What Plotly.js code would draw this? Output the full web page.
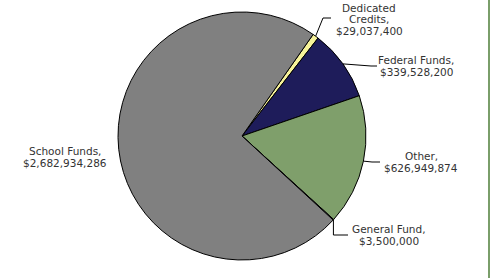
<!DOCTYPE html>
<html>
<head>
<meta charset="utf-8">
<script src="https://cdn.plot.ly/plotly-3.0.1.min.js"></script>
<style>html,body{margin:0;padding:0;background:#fff;}#chart{width:490px;height:278px;}</style>
</head>
<body>
<div id="chart"></div>
<script>
// Data
var categories = ["Dedicated Credits", "Federal Funds", "Other", "General Fund", "School Funds"];
var labelLines = [["Dedicated", "Credits,"], ["Federal Funds,"], ["Other,"], ["General Fund,"], ["School Funds,"]];
var values = [29037400, 339528200, 626949874, 3500000, 2682934286];
var colors = ["#f7f39a", "#1e1c5a", "#7f9f6b", "#808080", "#808080"];

var W = 490, H = 278;
var ROT = 35;
var CX = 242, CY = 136, R = 124;
function px(x) { return x / W; }
function py(y) { return 1 - y / H; }

// label centre (pixels) of the last text line for each category, in the same order
var labelPos = [[369, 31], [416, 72], [421, 168], [389, 241], [65, 163]];
var lineStep = 11.7;
// leader knees and ends (pixels); start point is computed on the pie edge
var leaderTail = [
  [[323, 18], [331, 18]],
  [[371, 66], [377, 66]],
  [[372, 162], [380, 162]],
  [null, [348, 235]],
  null
];

function fmt(v) { return "$" + v.toLocaleString("en-US"); }

var total = values.reduce(function (a, b) { return a + b; }, 0);
var cum = 0;
var midAngles = values.map(function (v) {
  var a = ROT + (cum + v / 2) / total * 360;
  cum += v;
  return a;
});

var annotations = [];
categories.forEach(function (c, i) {
  var lines = labelLines[i].concat([fmt(values[i])]);
  var n = lines.length;
  lines.forEach(function (t, k) {
    annotations.push({
      xref: "paper", yref: "paper",
      x: px(labelPos[i][0]), y: py(labelPos[i][1] - (n - 1 - k) * lineStep),
      xanchor: "center", yanchor: "middle",
      text: t,
      showarrow: false,
      font: {family: "DejaVu Sans", size: 10.5, color: "#333"}
    });
  });
});

var shapes = [];
leaderTail.forEach(function (T, i) {
  if (!T) return;
  var a = midAngles[i] * Math.PI / 180;
  var s = [CX + R * Math.sin(a), CY - R * Math.cos(a)];
  var pts = [s];
  if (T[0]) pts.push(T[0]); else pts.push([s[0], T[1][1]]);
  pts.push(T[1]);
  var path = "M" + pts.map(function (p) { return px(p[0]) + "," + py(p[1]); }).join("L");
  shapes.push({type: "path", xref: "paper", yref: "paper", path: path,
    line: {color: "#000", width: 1}});
});
// green frame line at right edge
shapes.push({type: "line", xref: "paper", yref: "paper", x0: px(489), x1: px(489), y0: 0, y1: 1,
  line: {color: "#7a9e6a", width: 2}});

var trace = {
  type: "pie",
  labels: categories,
  values: values,
  sort: false,
  direction: "clockwise",
  rotation: ROT,
  marker: {colors: colors, line: {color: "#000", width: 1}},
  textinfo: "none",
  hoverinfo: "none",
  showlegend: false,
  domain: {x: [px(CX - R), px(CX + R)], y: [py(CY + R), py(CY - R)]}
};

Plotly.newPlot("chart", [trace], {
  width: W, height: H,
  margin: {l: 0, r: 0, t: 0, b: 0},
  paper_bgcolor: "#fff",
  showlegend: false,
  annotations: annotations,
  shapes: shapes
}, {displayModeBar: false, staticPlot: true});
</script>
</body>
</html>
